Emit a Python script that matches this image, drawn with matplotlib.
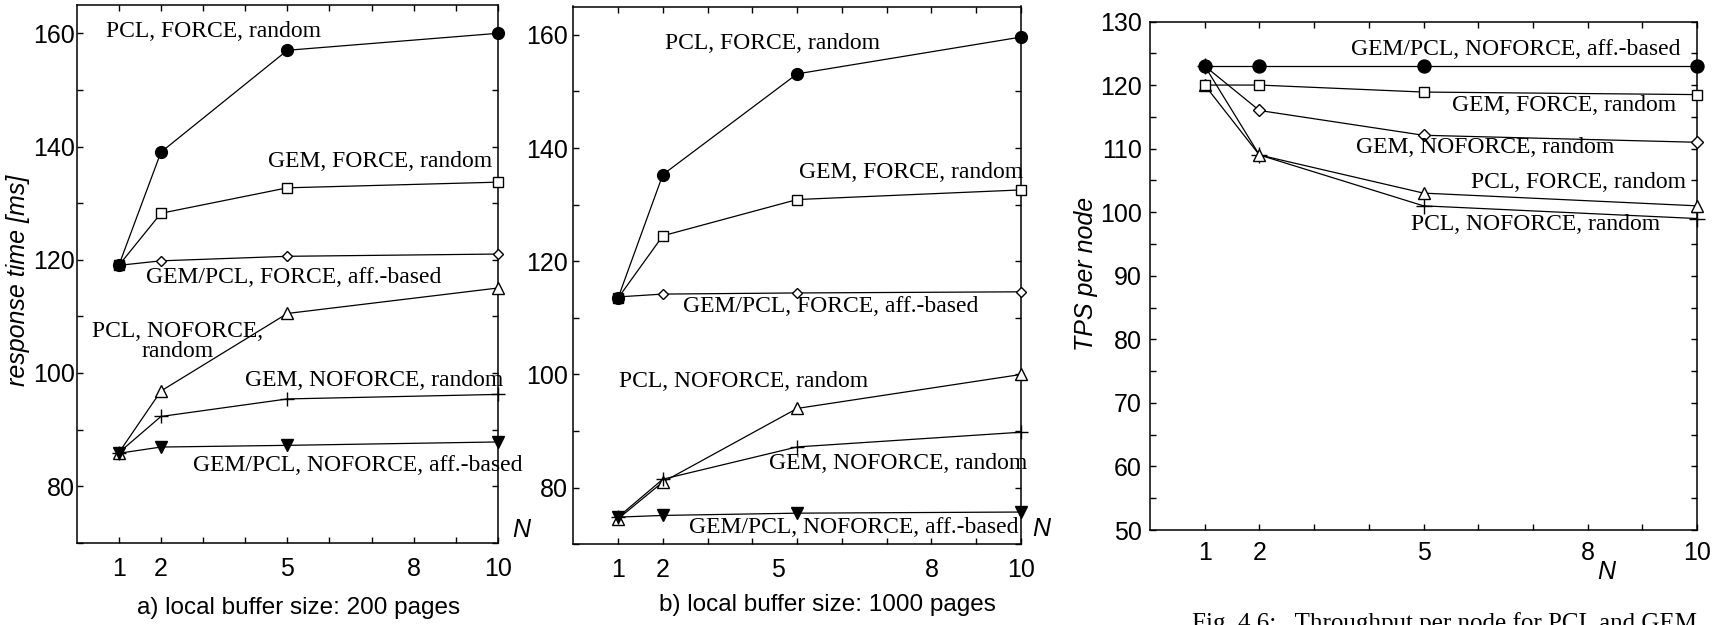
import matplotlib
matplotlib.use('Agg')
import matplotlib.pyplot as plt
from matplotlib.ticker import MultipleLocator, FixedLocator

# number of nodes
N = [1, 2, 5, 10]

# a) response time [ms], local buffer 200 pages
rt200_pcl_force_rand = [119, 139, 157, 160]
rt200_gem_force_rand = [119, 128.2, 132.7, 133.7]
rt200_force_aff = [119, 119.8, 120.6, 121]
rt200_pcl_noforce_rand = [85.9, 96.8, 110.5, 115]
rt200_gem_noforce_rand = [85.9, 92.3, 95.4, 96.2]
rt200_noforce_aff = [85.8, 86.9, 87.2, 87.8]

# b) response time [ms], local buffer 1000 pages
rt1000_pcl_force_rand = [113.5, 135.3, 153.1, 159.6]
rt1000_gem_force_rand = [113.5, 124.5, 130.9, 132.6]
rt1000_force_aff = [113.7, 114.2, 114.4, 114.6]
rt1000_pcl_noforce_rand = [74.5, 81.0, 94.0, 100]
rt1000_gem_noforce_rand = [74.8, 81.5, 87.2, 89.8]
rt1000_noforce_aff = [74.8, 75.1, 75.5, 75.7]

# throughput per node
tps_noforce_aff = [123, 123, 123, 123]
tps_gem_force_rand = [120, 120, 118.9, 118.5]
tps_gem_noforce_rand = [123, 116, 112.1, 111]
tps_pcl_force_rand = [120, 109, 103, 101]
tps_pcl_noforce_rand = [123, 109, 101, 99]

xtick_labels = ['1', '2', '5', '8', '10']

SERIF = ['Liberation Serif', 'DejaVu Serif']
SANS = ['Liberation Sans', 'DejaVu Sans']
plt.rcParams['font.family'] = SANS

# marker styles: (marker, filled, size)
MK = {
    'circle': ('o', True, 8.5),
    'square': ('s', False, 6.8),
    'diamond': ('D', False, 5.5),
    'tri': ('^', False, 8.5),
    'plus': ('+', False, 10),
    'vtri': ('v', True, 8),
}


def draw(ax, y, kind, scale=1.0):
    m, filled, ms = MK[kind]
    ax.plot(N, y, color='black', lw=0.9, marker=m, ms=ms * scale,
            mfc='black' if filled else 'white', mec='black', mew=1.0,
            clip_on=False, zorder=3)


def style(ax, ylim, ymaj, ymin, xpos, ypad, xpad):
    ax.set_xlim(0, 10)
    ax.set_ylim(*ylim)
    ax.xaxis.set_major_locator(FixedLocator(xpos))
    ax.set_xticklabels(xtick_labels)
    ax.xaxis.set_minor_locator(FixedLocator(range(1, 11)))
    ax.xaxis.remove_overlapping_locs = False
    ax.yaxis.set_major_locator(MultipleLocator(ymaj))
    ax.yaxis.set_minor_locator(MultipleLocator(ymin))
    ax.tick_params(which='both', direction='in', top=True, right=True,
                   width=1, length=4.5, labelsize=18)
    ax.tick_params(axis='x', which='major', length=0, pad=xpad)
    ax.tick_params(axis='y', which='major', pad=ypad)
    for s in ax.spines.values():
        s.set_linewidth(1.1)


def lab(ax, x, y, s):
    ax.text(x, y, s, ha='center', va='center', family=SERIF, fontsize=17,
            linespacing=0.95, zorder=4)


W, H = 1727, 625
fig = plt.figure(figsize=(W / 100, H / 100), dpi=100)


def axes_px(x0, x1, y0, y1):
    return fig.add_axes([x0 / W, 1 - y1 / H, (x1 - x0) / W, (y1 - y0) / H])


# a) 200 pages
ax1 = axes_px(76.7, 498, 5, 542.7)
draw(ax1, rt200_pcl_noforce_rand, 'tri')
draw(ax1, rt200_gem_noforce_rand, 'plus')
draw(ax1, rt200_noforce_aff, 'vtri')
draw(ax1, rt200_force_aff, 'diamond')
draw(ax1, rt200_gem_force_rand, 'square')
draw(ax1, rt200_pcl_force_rand, 'circle')
style(ax1, (70, 165), 20, 10, [1, 2, 5, 8, 10], 1, 10)
lab(ax1, 3.25, 160.4, 'PCL, FORCE, random')
lab(ax1, 7.2, 137.4, 'GEM, FORCE, random')
lab(ax1, 5.15, 116.9, 'GEM/PCL, FORCE, aff.-based')
lab(ax1, 2.39, 105.5, 'PCL, NOFORCE,\nrandom')
lab(ax1, 7.07, 98.7, 'GEM, NOFORCE, random')
lab(ax1, 6.66, 83.6, 'GEM/PCL, NOFORCE, aff.-based')

# b) 1000 pages
ax2 = axes_px(573.3, 1021, 6.5, 544.3)
draw(ax2, rt1000_pcl_noforce_rand, 'tri')
draw(ax2, rt1000_gem_noforce_rand, 'plus')
draw(ax2, rt1000_noforce_aff, 'vtri')
draw(ax2, rt1000_force_aff, 'diamond')
draw(ax2, rt1000_gem_force_rand, 'square')
draw(ax2, rt1000_pcl_force_rand, 'circle')
style(ax2, (70, 165), 20, 10, [1, 2, 4.58, 8, 10], 4, 10)
lab(ax2, 4.44, 158.5, 'PCL, FORCE, random')
lab(ax2, 7.54, 135.7, 'GEM, FORCE, random')
lab(ax2, 5.74, 112.0, 'GEM/PCL, FORCE, aff.-based')
lab(ax2, 3.8, 98.7, 'PCL, NOFORCE, random')
lab(ax2, 7.26, 84.3, 'GEM, NOFORCE, random')
lab(ax2, 6.26, 72.9, 'GEM/PCL, NOFORCE, aff.-based')

# throughput
ax3 = axes_px(1150, 1697, 21.5, 530)
draw(ax3, tps_pcl_noforce_rand, 'plus', 1.1)
draw(ax3, tps_pcl_force_rand, 'tri', 1.1)
draw(ax3, tps_gem_noforce_rand, 'diamond', 1.1)
draw(ax3, tps_gem_force_rand, 'square', 1.1)
draw(ax3, tps_noforce_aff, 'circle', 1.1)
style(ax3, (50, 130), 10, 5, [1, 2, 5, 8, 10], 6, 8)
lab(ax3, 6.68, 125.6, 'GEM/PCL, NOFORCE, aff.-based')
lab(ax3, 7.57, 116.8, 'GEM, FORCE, random')
lab(ax3, 6.12, 110.1, 'GEM, NOFORCE, random')
lab(ax3, 7.84, 104.6, 'PCL, FORCE, random')
lab(ax3, 7.04, 98.0, 'PCL, NOFORCE, random')


def ftext(x, y, s, **kw):
    fig.text(x / W, 1 - y / H, s, **kw)


ftext(18, 280, 'response time [ms]', rotation=90, ha='center', va='center',
      style='italic', fontsize=18)
ftext(1086, 274, 'TPS per node', rotation=90, ha='center', va='center',
      style='italic', fontsize=18)
ftext(521.6, 530, 'N', ha='center', va='center', style='italic', fontsize=18)
ftext(1041.7, 529, 'N', ha='center', va='center', style='italic', fontsize=18)
ftext(1606, 572, 'N', ha='center', va='center', style='italic', fontsize=18)
ftext(298.8, 608, 'a) local buffer size: 200 pages', ha='center', va='center',
      fontsize=17.5)
ftext(827.3, 605, 'b) local buffer size: 1000 pages', ha='center', va='center',
      fontsize=17.5)
# figure caption, running off the bottom edge
ftext(1192, 630, 'Fig. 4.6:   Throughput per node for PCL and GEM',
      ha='left', va='baseline', family=SERIF, fontsize=18)

fig.savefig('out.png', dpi=100)
